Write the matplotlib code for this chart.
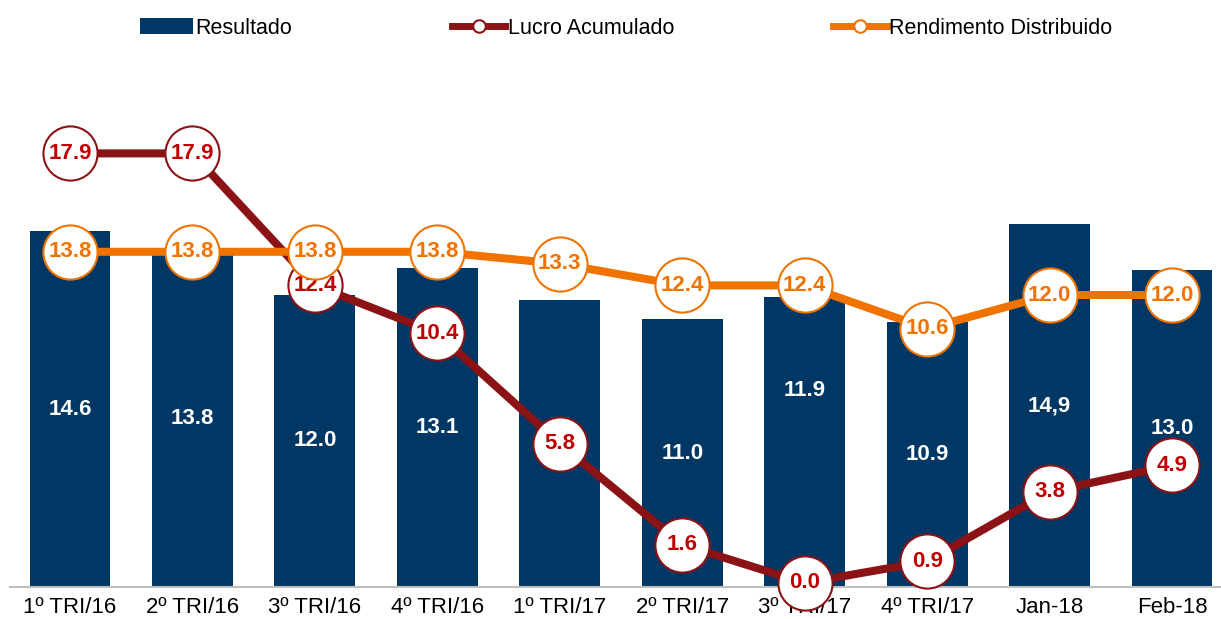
import matplotlib.pyplot as plt
from matplotlib.lines import Line2D
from matplotlib.patches import Patch

plt.rcParams['font.family'] = ['Liberation Sans', 'DejaVu Sans']

# data
categories = ['1º TRI/16', '2º TRI/16', '3º TRI/16', '4º TRI/16', '1º TRI/17',
              '2º TRI/17', '3º TRI/17', '4º TRI/17', 'Jan-18', 'Feb-18']
resultado = [14.6, 13.8, 12.0, 13.1, 11.8, 11.0, 11.9, 10.9, 14.9, 13.0]
# label of the 1º TRI/17 bar is hidden behind the 5.8 circle in the original
resultado_labels = ['14.6', '13.8', '12.0', '13.1', '', '11.0', '11.9', '10.9', '14,9', '13.0']
lucro = [17.9, 17.9, 12.4, 10.4, 5.8, 1.6, 0.0, 0.9, 3.8, 4.9]
rendimento = [13.8, 13.8, 13.8, 13.8, 13.3, 12.4, 12.4, 10.6, 12.0, 12.0]

navy = '#003764'
red = '#8B1316'
red_txt = '#C00000'
orange = '#F07300'

fig = plt.figure(figsize=(12.21, 6.19), dpi=100)
ax = fig.add_axes([10 / 1221, 32 / 619, 1211 / 1221, 527 / 619])
x = list(range(len(categories)))

ax.bar(x, resultado, width=0.66, color=navy, zorder=2)
for i, (v, lab) in enumerate(zip(resultado, resultado_labels)):
    y = v / 2
    if i == 6:
        y += 2.1  # label sits higher on this bar
    ax.text(i, y, lab, ha='center', va='center', color='white',
            fontsize=16, fontweight='bold', zorder=3)

ax.set_xlim(-0.49, 9.40)
ax.set_ylim(0, 527 / 24.35)
ax.set_xticks(x)
ax.set_xticklabels(categories, fontsize=16)
ax.tick_params(axis='x', length=0, pad=7)
ax.set_yticks([])
for s in ['top', 'right', 'left']:
    ax.spines[s].set_visible(False)
ax.spines['bottom'].set_color('#BFBFBF')
ax.spines['bottom'].set_linewidth(1.5)

# lines on a second scale
ax2 = ax.twinx()
ax2.set_ylim(-4 / 24.0, 523 / 24.0)
ax2.set_yticks([])
ax2.axis('off')

ax2.plot(x, lucro, color=red, lw=5.8, marker='o', markersize=39,
         markerfacecolor='white', markeredgecolor=red, markeredgewidth=1.5,
         clip_on=False, zorder=3)
for i, v in enumerate(lucro):
    ax2.text(i, v, f'{v:.1f}', ha='center', va='center', color=red_txt,
             fontsize=16, fontweight='bold', zorder=4)

ax2.plot(x, rendimento, color=orange, lw=5.8, marker='o', markersize=39,
         markerfacecolor='white', markeredgecolor=orange, markeredgewidth=1.5,
         clip_on=False, zorder=5)
for i, v in enumerate(rendimento):
    ax2.text(i, v, f'{v:.1f}', ha='center', va='center', color=orange,
             fontsize=16, fontweight='bold', zorder=6)

handles = [
    Patch(facecolor=navy, edgecolor='none'),
    Line2D([], [], color=red, lw=5, marker='o', markersize=9,
           markerfacecolor='white', markeredgecolor=red, markeredgewidth=1.5),
    Line2D([], [], color=orange, lw=5, marker='o', markersize=9,
           markerfacecolor='white', markeredgecolor=orange, markeredgewidth=1.5),
]
fig.legend(handles, ['Resultado', 'Lucro Acumulado', 'Rendimento Distribuido'],
           loc='center', bbox_to_anchor=(626 / 1221, 1 - 28 / 619), ncol=3,
           frameon=False, fontsize=15.5, handlelength=2.5, handleheight=0.7,
           handletextpad=0.1, columnspacing=7.4)

fig.savefig('out.png', dpi=100)
